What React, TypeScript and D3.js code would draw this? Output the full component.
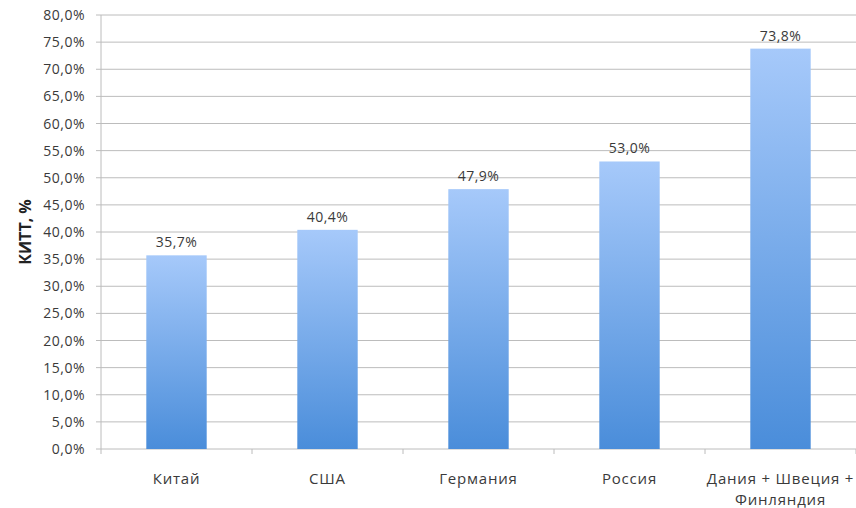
import React from "react";
import * as d3 from "d3";

const categories: string[][] = [["Китай"], ["США"], ["Германия"], ["Россия"], ["Дания + Швеция +", "Финляндия"]];
const values: number[] = [35.7, 40.4, 47.9, 53.0, 73.8];
const yTicks: number[] = d3.range(0, 80.001, 5);
const yTitle = "КИТТ, %";

const W = 856, H = 508;
const left = 101, right = 856, top = 15, bottom = 449;
const font = "'Open Sans', sans-serif";

const fmt = (v: number) => v.toFixed(1).replace(".", ",") + "%";

export default function App() {
  const x = d3.scaleBand<number>().domain(d3.range(categories.length)).range([left, right]).paddingInner(0.6).paddingOuter(0.3);
  const xb = d3.scaleBand<number>().domain(d3.range(categories.length)).range([left, right]);
  const y = d3.scaleLinear().domain([0, 80]).range([bottom, top]);
  return (
    <svg width={W} height={H} style={{ position: "absolute", left: 0, top: 0, background: "#fff" }}>
      <defs>
        <linearGradient id="barGrad" x1="0" y1="0" x2="0" y2="1">
          <stop offset="0%" stopColor="#a6c9fa" />
          <stop offset="100%" stopColor="#4a8dda" />
        </linearGradient>
      </defs>
      {yTicks.map((t) => (
        <g key={t}>
          <line x1={left - 5} x2={right} y1={y(t)} y2={y(t)} stroke="#bcbcbc" strokeWidth={1} />
          <text x={85} y={y(t)} dy="0.36em" textAnchor="end" fontFamily={font} fontSize={14} letterSpacing={0.5} fill="#3a3a3a">{fmt(t)}</text>
        </g>
      ))}
      <line x1={left} x2={left} y1={top} y2={bottom} stroke="#bcbcbc" />
      {d3.range(categories.length + 1).map((i) => {
        const xx = i < categories.length ? (xb(i) as number) : right;
        return <line key={i} x1={xx} x2={xx} y1={bottom} y2={bottom + 5} stroke="#bcbcbc" />;
      })}
      {values.map((v, i) => {
        const bx = x(i) as number;
        const bw = x.bandwidth();
        return (
          <g key={i}>
            <rect x={bx} y={y(v)} width={bw} height={bottom - y(v)} fill="url(#barGrad)" />
            <text x={bx + bw / 2} y={y(v) - 8} textAnchor="middle" fontFamily={font} fontSize={14} letterSpacing={0.5} fill="#3a3a3a">{fmt(v)}</text>
          </g>
        );
      })}
      {categories.map((lines, i) => {
        const cx = (xb(i) as number) + xb.bandwidth() / 2;
        return (
          <text key={i} x={cx} y={484} textAnchor="middle" fontFamily={font} fontSize={15} letterSpacing={0.8} fill="#3a3a3a">
            {lines.map((l, j) => (
              <tspan key={j} x={cx} dy={j === 0 ? 0 : 21}>{l}</tspan>
            ))}
          </text>
        );
      })}
      <text transform={`translate(31,${(top + bottom) / 2}) rotate(-90)`} textAnchor="middle" fontFamily={font} fontSize={16} fontWeight="bold" fill="#222">{yTitle}</text>
    </svg>
  );
}
